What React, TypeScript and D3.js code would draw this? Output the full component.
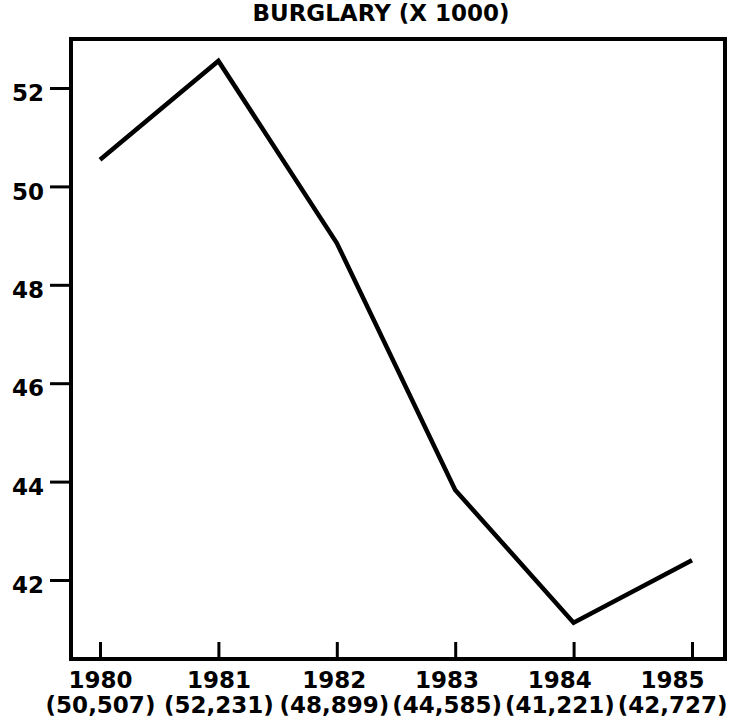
import { useEffect, useRef } from "react";
import * as d3 from "d3";

const years = [1980, 1981, 1982, 1983, 1984, 1985];
// values as plotted on the line (thousands)
const burglary = [50.54, 52.55, 48.85, 43.83, 41.13, 42.4];
// printed counts under each year
const countLabels = ["(50,507)", "(52,231)", "(48,899)", "(44,585)", "(41,221)", "(42,727)"];
const yTicks = [42, 44, 46, 48, 50, 52];

const W = 733;
const H = 727;
const frame = { left: 71, right: 725, top: 39, bottom: 659 };
const font = "'DejaVu Sans', sans-serif";

const App = () => {
  const ref = useRef<SVGSVGElement>(null);

  useEffect(() => {
    const svg = d3.select(ref.current);
    svg.selectAll("*").remove();

    const x = d3.scaleLinear().domain([1980, 1985]).range([100, 692]);
    const y = d3.scaleLinear().domain([42, 52]).range([580, 88]);

    svg.append("text")
      .attr("x", 381)
      .attr("y", 21)
      .attr("text-anchor", "middle")
      .attr("font-family", font)
      .attr("font-weight", "bold")
      .attr("font-size", 23)
      .text("BURGLARY (X 1000)");

    svg.append("rect")
      .attr("x", frame.left)
      .attr("y", frame.top)
      .attr("width", frame.right - frame.left)
      .attr("height", frame.bottom - frame.top)
      .attr("fill", "none")
      .attr("stroke", "#000")
      .attr("stroke-width", 4);

    // y axis, ticks pointing out
    const yAxis = d3.axisLeft(y).tickValues(yTicks).tickSize(21).tickPadding(6).tickFormat(d3.format("d"));
    const gy = svg.append("g")
      .attr("transform", `translate(${frame.left},0)`)
      .call(yAxis);
    gy.select(".domain").remove();
    gy.selectAll(".tick line").attr("stroke", "#000").attr("stroke-width", 3);
    gy.selectAll(".tick text")
      .attr("font-family", font)
      .attr("font-weight", "bold")
      .attr("font-size", 23)
      .attr("fill", "#000")
      .attr("dy", "0.55em");

    // x axis, ticks pointing in
    const xAxis = d3.axisBottom(x).tickValues(years).tickSize(-17).tickFormat(d3.format("d"));
    const gx = svg.append("g")
      .attr("transform", `translate(0,${frame.bottom})`)
      .call(xAxis);
    gx.select(".domain").remove();
    gx.selectAll(".tick line").attr("stroke", "#000").attr("stroke-width", 3);
    gx.selectAll(".tick text")
      .attr("font-family", font)
      .attr("font-weight", "bold")
      .attr("font-size", 23)
      .attr("fill", "#000")
      .attr("y", 29)
      .attr("dy", 0);
    gx.selectAll(".tick")
      .append("text")
      .attr("class", "count")
      .attr("y", 54)
      .attr("text-anchor", "middle")
      .attr("font-family", font)
      .attr("font-weight", "bold")
      .attr("font-size", 23)
      .attr("fill", "#000")
      .text((_d, i) => countLabels[i]);

    // pack the labels right to left so they stay on the page and apart
    const ticks = gx.selectAll<SVGGElement, number>(".tick").nodes().reverse();
    let limit = W - 6;
    ticks.forEach(node => {
      const g = d3.select(node);
      const d = g.datum() as number;
      const t = g.select<SVGTextElement>("text.count").node();
      if (!t) return;
      const b = t.getBBox();
      const over = Math.max(0, x(d) + b.x + b.width - limit);
      if (over > 0) g.selectAll("text").attr("x", -over);
      limit = x(d) + b.x - over - 3;
    });

    const line = d3.line<number>()
      .x((_d, i) => x(years[i]))
      .y(d => y(d));

    svg.append("path")
      .datum(burglary)
      .attr("d", line)
      .attr("fill", "none")
      .attr("stroke", "#000")
      .attr("stroke-width", 4.5)
      .attr("stroke-linejoin", "miter");
  }, []);

  return (
    <div>
      <svg ref={ref} width={W} height={H} style={{ position: "absolute", left: 0, top: 0, background: "#fff" }} />
    </div>
  );
};

export default App;
